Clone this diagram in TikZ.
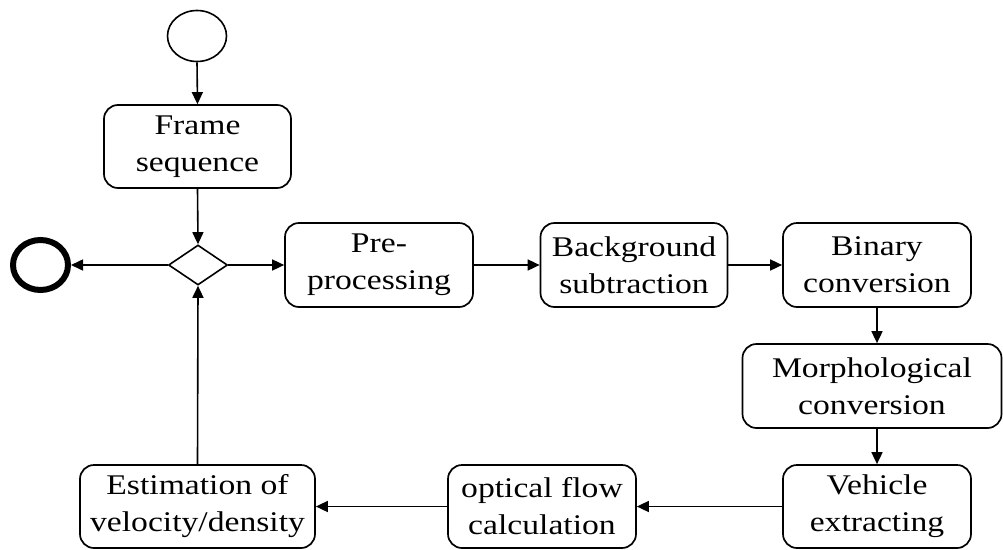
\documentclass[tikz,border=0pt]{standalone}
\usepackage{fontspec}
\setmainfont{Liberation Serif}[FakeStretch=1.18]
\usetikzlibrary{shapes.geometric,arrows.meta}
\tikzset{
  box/.style={draw, line width=1.7pt, rounded corners=14pt, align=center, inner sep=0pt,
    font=\fontsize{28.5}{37}\selectfont},
  arr/.style={line width=1.6pt, -{Triangle[length=12pt,width=11pt]}},
}
\begin{document}
\begin{tikzpicture}[x=1pt,y=-1pt]
\useasboundingbox (0,0) rectangle (1003,549);
\node[draw, ellipse, line width=1.6pt, minimum width=59pt, minimum height=51pt, inner sep=0pt] (start) at (197,36) {};
\node[box, minimum width=187pt, minimum height=83pt] (frame) at (197.5,146.5) {Frame\\sequence};
\node[draw, diamond, line width=1.6pt, minimum width=59pt, minimum height=40pt, inner sep=0pt, aspect=1.5] (dia) at (198,265) {};
\node[draw, ellipse, line width=6pt, minimum width=55pt, minimum height=50pt, inner sep=0pt] (end) at (40.5,265) {};
\node[box, minimum width=188pt, minimum height=84pt] (pre) at (379,265) {Pre-\\processing};
\node[box, minimum width=187pt, minimum height=84pt] (bg) at (634,265) {Background\\subtraction};
\node[box, minimum width=188pt, minimum height=84pt] (bin) at (877,265) {Binary\\conversion};
\node[box, minimum width=259pt, minimum height=84pt] (morph) at (872,386) {Morphological\\conversion};
\node[box, minimum width=188pt, minimum height=83pt] (veh) at (877,506.5) {Vehicle\\extracting};
\node[box, minimum width=188pt, minimum height=83pt] (opt) at (542,506.5) {optical flow\\calculation};
\node[box, minimum width=235pt, minimum height=83pt] (est) at (197.5,506.5) {Estimation of\\velocity/density};
\draw[arr] (start.south) -- (frame.north);
\draw[arr] (frame.south) -- (dia.north);
\draw[arr] (dia.west) -- (end.east);
\draw[arr] (dia.east) -- (pre.west);
\draw[arr] (pre.east) -- (bg.west);
\draw[arr] (bg.east) -- (bin.west);
\draw[arr] (bin.south) -- (bin.south |- morph.north);
\draw[arr] (veh.north |- morph.south) -- (veh.north);
\draw[arr] (veh.west) -- (opt.east);
\draw[arr] (opt.west) -- (est.east);
\draw[arr] (est.north) -- (dia.south);
\end{tikzpicture}
\end{document}
